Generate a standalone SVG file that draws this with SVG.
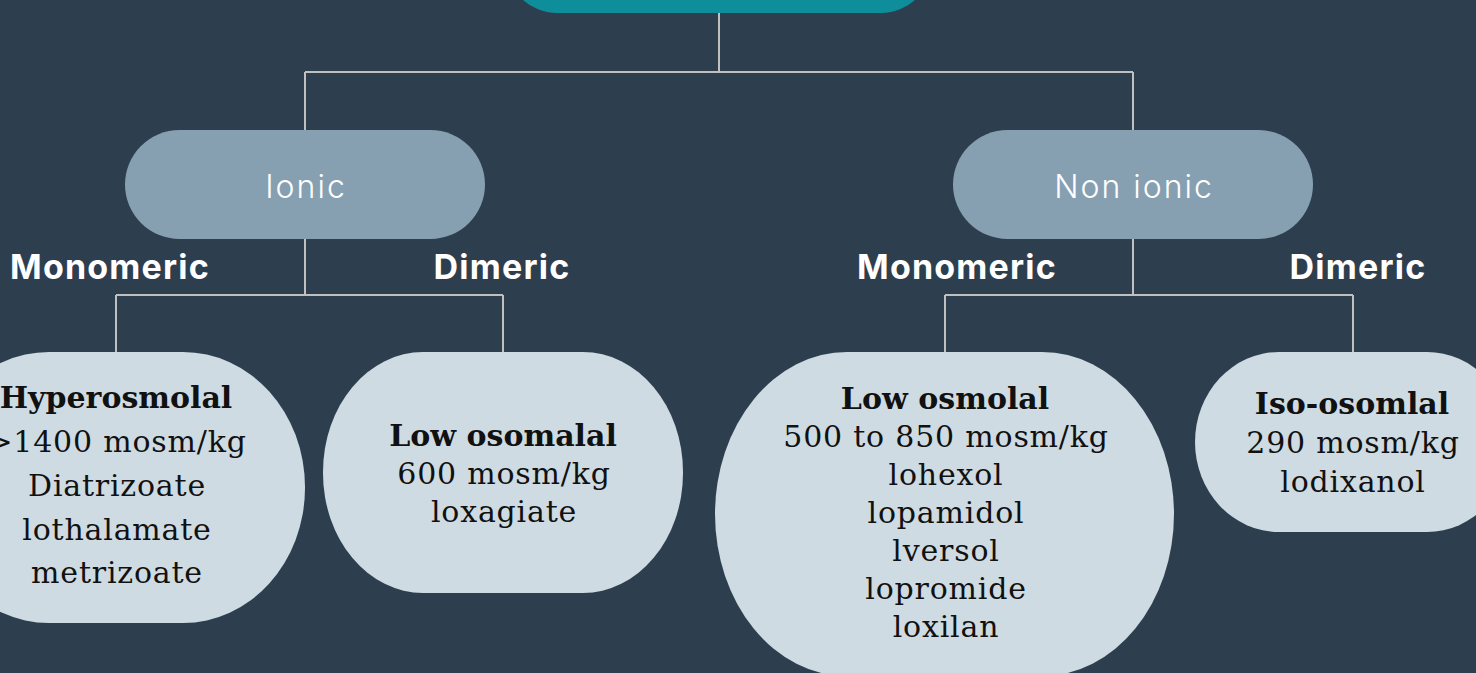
<svg xmlns="http://www.w3.org/2000/svg" width="1476" height="673" viewBox="0 0 1476 673">
<style>
.bg{fill:#2D3E4F}
.top{fill:#0E8E9B}
.mid{fill:#86A0B2}
.leaf{fill:#CFDBE2}
.conn{fill:none;stroke:#C0C0C0;stroke-width:2}
.mt{font-family:Inter,"Noto Sans",sans-serif;font-weight:300;font-size:32px;fill:#FFFFFF;text-anchor:middle;letter-spacing:2px}
.lbl{font-family:Inter,"Noto Sans",sans-serif;font-weight:700;font-size:34px;fill:#FFFFFF;text-anchor:middle;letter-spacing:1.2px}
.lt{font-family:"DejaVu Serif","Liberation Serif",serif;font-size:30px;fill:#111111;text-anchor:middle;letter-spacing:0.8px}
.lt .b{font-weight:700;letter-spacing:0px}
</style>
<rect class="bg" x="0" y="0" width="1476" height="673"/>
<g id="connectors">
<path class="conn" d="M719 13 V72 M305 72 H1133 M305 72 V130 M1133 72 V130"/>
<path class="conn" d="M305 239 V295 M116 295 H503 M116 295 V352 M503 295 V352"/>
<path class="conn" d="M1133 239 V295 M945 295 H1353 M945 295 V352 M1353 295 V352"/>
</g>
<g id="root">
<rect class="top" x="506" y="-96" width="426" height="109" rx="51" ry="51"/>
</g>
<g id="ionic">
<rect class="mid" x="125" y="130" width="360" height="109" rx="54.5" ry="54.5"/>
<text class="mt" x="306" y="198">Ionic</text>
</g>
<g id="nonionic">
<rect class="mid" x="953" y="130" width="360" height="109" rx="54.5" ry="54.5"/>
<text class="mt" x="1134" y="198">Non ionic</text>
</g>
<g id="labels">
<text class="lbl" x="110" y="279">Monomeric</text>
<text class="lbl" x="502" y="279">Dimeric</text>
<text class="lbl" x="957" y="279">Monomeric</text>
<text class="lbl" x="1358" y="279">Dimeric</text>
</g>
<g id="hyperosmolal">
<rect class="leaf" x="-73" y="352" width="378" height="271" rx="122" ry="135"/>
<text class="lt"><tspan class="b" x="116" y="408">Hyperosmolal</tspan><tspan x="117" y="452">&gt;1400 mosm/kg</tspan><tspan x="117" y="496">Diatrizoate</tspan><tspan x="117" y="540">lothalamate</tspan><tspan x="117" y="583">metrizoate</tspan></text>
</g>
<g id="lowosomalal">
<rect class="leaf" x="323" y="352" width="360" height="241" rx="100" ry="120"/>
<text class="lt"><tspan class="b" x="503" y="446">Low osomalal</tspan><tspan x="504" y="484">600 mosm/kg</tspan><tspan x="504" y="522">loxagiate</tspan></text>
</g>
<g id="lowosmolal">
<rect class="leaf" x="715" y="352" width="459" height="324" rx="132" ry="162"/>
<text class="lt"><tspan class="b" x="945" y="409">Low osmolal</tspan><tspan x="946" y="447">500 to 850 mosm/kg</tspan><tspan x="946" y="485">lohexol</tspan><tspan x="946" y="523">lopamidol</tspan><tspan x="946" y="561">lversol</tspan><tspan x="946" y="599">lopromide</tspan><tspan x="946" y="637">loxilan</tspan></text>
</g>
<g id="isoosmolal">
<rect class="leaf" x="1195" y="352" width="316" height="180" rx="84" ry="90"/>
<text class="lt"><tspan class="b" x="1352" y="414">Iso-osomlal</tspan><tspan x="1353" y="453">290 mosm/kg</tspan><tspan x="1353" y="492">lodixanol</tspan></text>
</g>
</svg>
